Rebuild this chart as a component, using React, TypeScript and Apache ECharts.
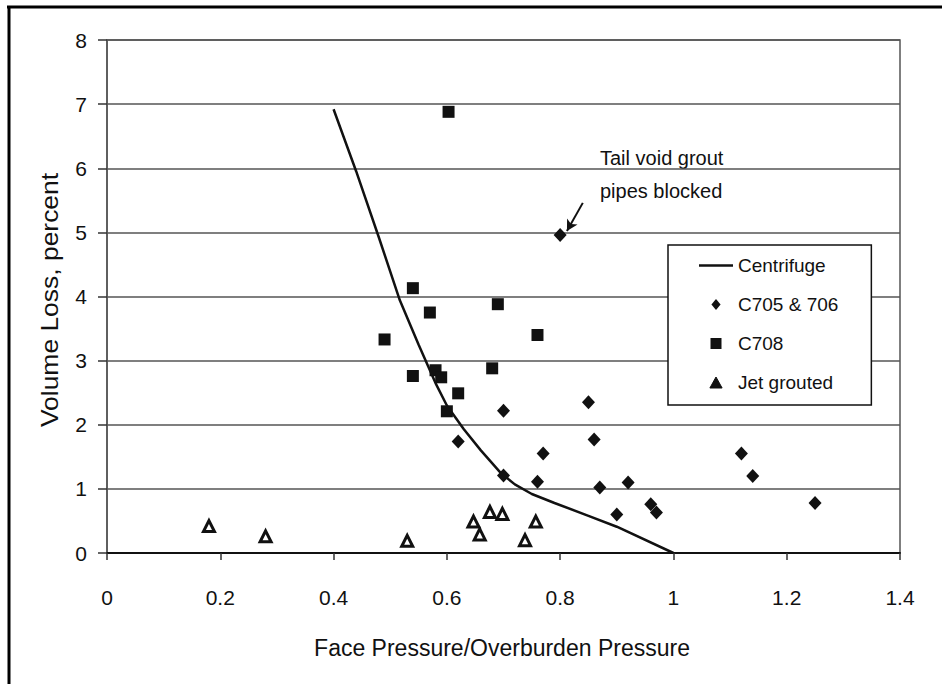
import React, { useEffect, useRef } from "react";
import * as echarts from "echarts";

const FONT = '"Liberation Sans", Arial, sans-serif';

const xTicks = [0, 0.2, 0.4, 0.6, 0.8, 1, 1.2, 1.4];
const yTicks = [0, 1, 2, 3, 4, 5, 6, 7, 8];

const centrifugeX = [0.4, 0.44, 0.48, 0.517, 0.55, 0.58, 0.6, 0.63, 0.66, 0.695, 0.72, 0.75, 0.79, 0.85, 0.9, 1.0];
const centrifugeY = [6.92, 5.95, 4.92, 3.94, 3.25, 2.65, 2.3, 1.93, 1.6, 1.25, 1.07, 0.92, 0.78, 0.58, 0.41, 0.0];

const c705X = [0.8, 0.7, 0.85, 0.62, 0.86, 0.77, 0.7, 0.76, 0.87, 0.92, 0.9, 0.96, 0.97, 1.12, 1.14, 1.25];
const c705Y = [4.96, 2.22, 2.35, 1.74, 1.77, 1.55, 1.21, 1.11, 1.02, 1.1, 0.6, 0.76, 0.63, 1.55, 1.2, 0.78];

const c708X = [0.603, 0.54, 0.57, 0.69, 0.49, 0.76, 0.54, 0.58, 0.59, 0.68, 0.62, 0.6];
const c708Y = [6.88, 4.13, 3.75, 3.88, 3.33, 3.4, 2.76, 2.85, 2.74, 2.88, 2.49, 2.21];

const jetX = [0.18, 0.28, 0.53, 0.647, 0.658, 0.676, 0.698, 0.738, 0.757];
const jetY = [0.42, 0.26, 0.19, 0.49, 0.29, 0.64, 0.61, 0.2, 0.49];

const seriesNames = ["Centrifuge", "C705 & 706", "C708", "Jet grouted"];
const annotationLines = ["Tail void grout", "pipes blocked"];
const arrowFrom = [0.84, 5.46];
const arrowTo = [0.812, 5.02];

const zip = (xs: number[], ys: number[]) => xs.map((x, i) => [x, ys[i]]);

export default function App() {
  const ref = useRef<HTMLDivElement>(null);
  useEffect(() => {
    if (!ref.current) return;
    const chart = echarts.init(ref.current, undefined, { renderer: "svg" });
    chart.setOption({
      animation: false,
      backgroundColor: "#fff",
      textStyle: { fontFamily: FONT },
      grid: {
        left: 107,
        right: 42,
        top: 40,
        bottom: 131,
        show: true,
        borderColor: "#555",
        borderWidth: 1.5,
      },
      xAxis: {
        type: "value",
        min: xTicks[0],
        max: xTicks[xTicks.length - 1],
        interval: 0.2,
        axisLine: { lineStyle: { color: "#111", width: 2 } },
        axisTick: { show: true, length: 7, lineStyle: { color: "#333", width: 1.5 } },
        axisLabel: {
          margin: 34,
          fontSize: 21,
          color: "#111",
          fontFamily: FONT,
          formatter: (v: number) => String(+v.toFixed(1)),
        },
        splitLine: { show: false },
      },
      yAxis: {
        type: "value",
        min: yTicks[0],
        max: yTicks[yTicks.length - 1],
        interval: 1,
        axisLine: { show: true, lineStyle: { color: "#555", width: 1.5 } },
        axisTick: { show: true, length: 9, lineStyle: { color: "#333", width: 1.5 } },
        axisLabel: { margin: 20, fontSize: 21, color: "#111", fontFamily: FONT },
        splitLine: { show: true, lineStyle: { color: "#555", width: 1.5 } },
      },
      legend: {
        orient: "vertical",
        left: 668,
        top: 245,
        itemWidth: 34,
        itemHeight: 11,
        itemGap: 18,
        padding: [10, 33, 12, 31],
        borderColor: "#111",
        borderWidth: 1.5,
        backgroundColor: "#fff",
        symbolKeepAspect: true,
        textStyle: { fontSize: 19, color: "#111", fontFamily: FONT, lineHeight: 21 },
        data: [
          { name: seriesNames[0], icon: "path://M0,0H34V2.5H0Z" },
          { name: seriesNames[1], icon: "path://M5,0L10,6L5,12L0,6Z" },
          { name: seriesNames[2], icon: "path://M0,0H10V10H0Z" },
          {
            name: seriesNames[3],
            icon: "path://M5,0L10,9H0Z",
            itemStyle: { color: "#111", borderColor: "#111", borderWidth: 1 },
          },
        ],
      },
      series: [
        {
          name: seriesNames[0],
          type: "line",
          data: zip(centrifugeX, centrifugeY),
          symbol: "none",
          smooth: false,
          lineStyle: { color: "#111", width: 2.5 },
          itemStyle: { color: "#111" },
          z: 3,
        },
        {
          name: seriesNames[1],
          type: "scatter",
          data: zip(c705X, c705Y),
          symbol: "diamond",
          symbolSize: [13, 14],
          itemStyle: { color: "#111", opacity: 1 },
          z: 4,
          markLine: {
            silent: true,
            symbol: ["none", "arrow"],
            symbolSize: [9, 11],
            label: { show: false },
            lineStyle: { color: "#111", width: 2, type: "solid", opacity: 1 },
            data: [[{ coord: arrowFrom }, { coord: arrowTo }]],
          },
        },
        {
          name: seriesNames[2],
          type: "scatter",
          data: zip(c708X, c708Y),
          symbol: "rect",
          symbolSize: 12,
          itemStyle: { color: "#111", opacity: 1 },
          z: 4,
        },
        {
          name: seriesNames[3],
          type: "scatter",
          data: zip(jetX, jetY),
          symbol: "triangle",
          symbolSize: [11, 11],
          itemStyle: { color: "#fff", borderColor: "#111", borderWidth: 3, opacity: 1 },
          z: 4,
        },
      ],
      graphic: [
        {
          type: "line",
          shape: { x1: 7, y1: 7, x2: 942, y2: 7 },
          style: { stroke: "#000", lineWidth: 3 },
        },
        {
          type: "line",
          shape: { x1: 9, y1: 6, x2: 9, y2: 684 },
          style: { stroke: "#000", lineWidth: 3 },
        },
        {
          type: "text",
          x: 502,
          y: 648,
          style: {
            text: "Face Pressure/Overburden Pressure",
            fontSize: 23,
            fontFamily: FONT,
            fill: "#111",
            textAlign: "center",
            textVerticalAlign: "middle",
          },
        },
        {
          type: "text",
          x: 50,
          y: 300,
          rotation: Math.PI / 2,
          scaleX: 1.15,
          style: {
            text: "Volume Loss, percent",
            fontSize: 23,
            fontFamily: FONT,
            fill: "#111",
            textAlign: "center",
            textVerticalAlign: "middle",
          },
        },
        {
          type: "text",
          x: 600,
          y: 158,
          style: {
            text: annotationLines[0],
            fontSize: 20,
            fontFamily: FONT,
            fill: "#111",
            textAlign: "left",
            textVerticalAlign: "middle",
          },
        },
        {
          type: "text",
          x: 600,
          y: 191,
          style: {
            text: annotationLines[1],
            fontSize: 20,
            fontFamily: FONT,
            fill: "#111",
            textAlign: "left",
            textVerticalAlign: "middle",
          },
        },
      ],
    });
    return () => chart.dispose();
  }, []);
  return (
    <div
      ref={ref}
      style={{ position: "fixed", left: 0, top: 0, width: 942, height: 684, background: "#fff" }}
    />
  );
}
